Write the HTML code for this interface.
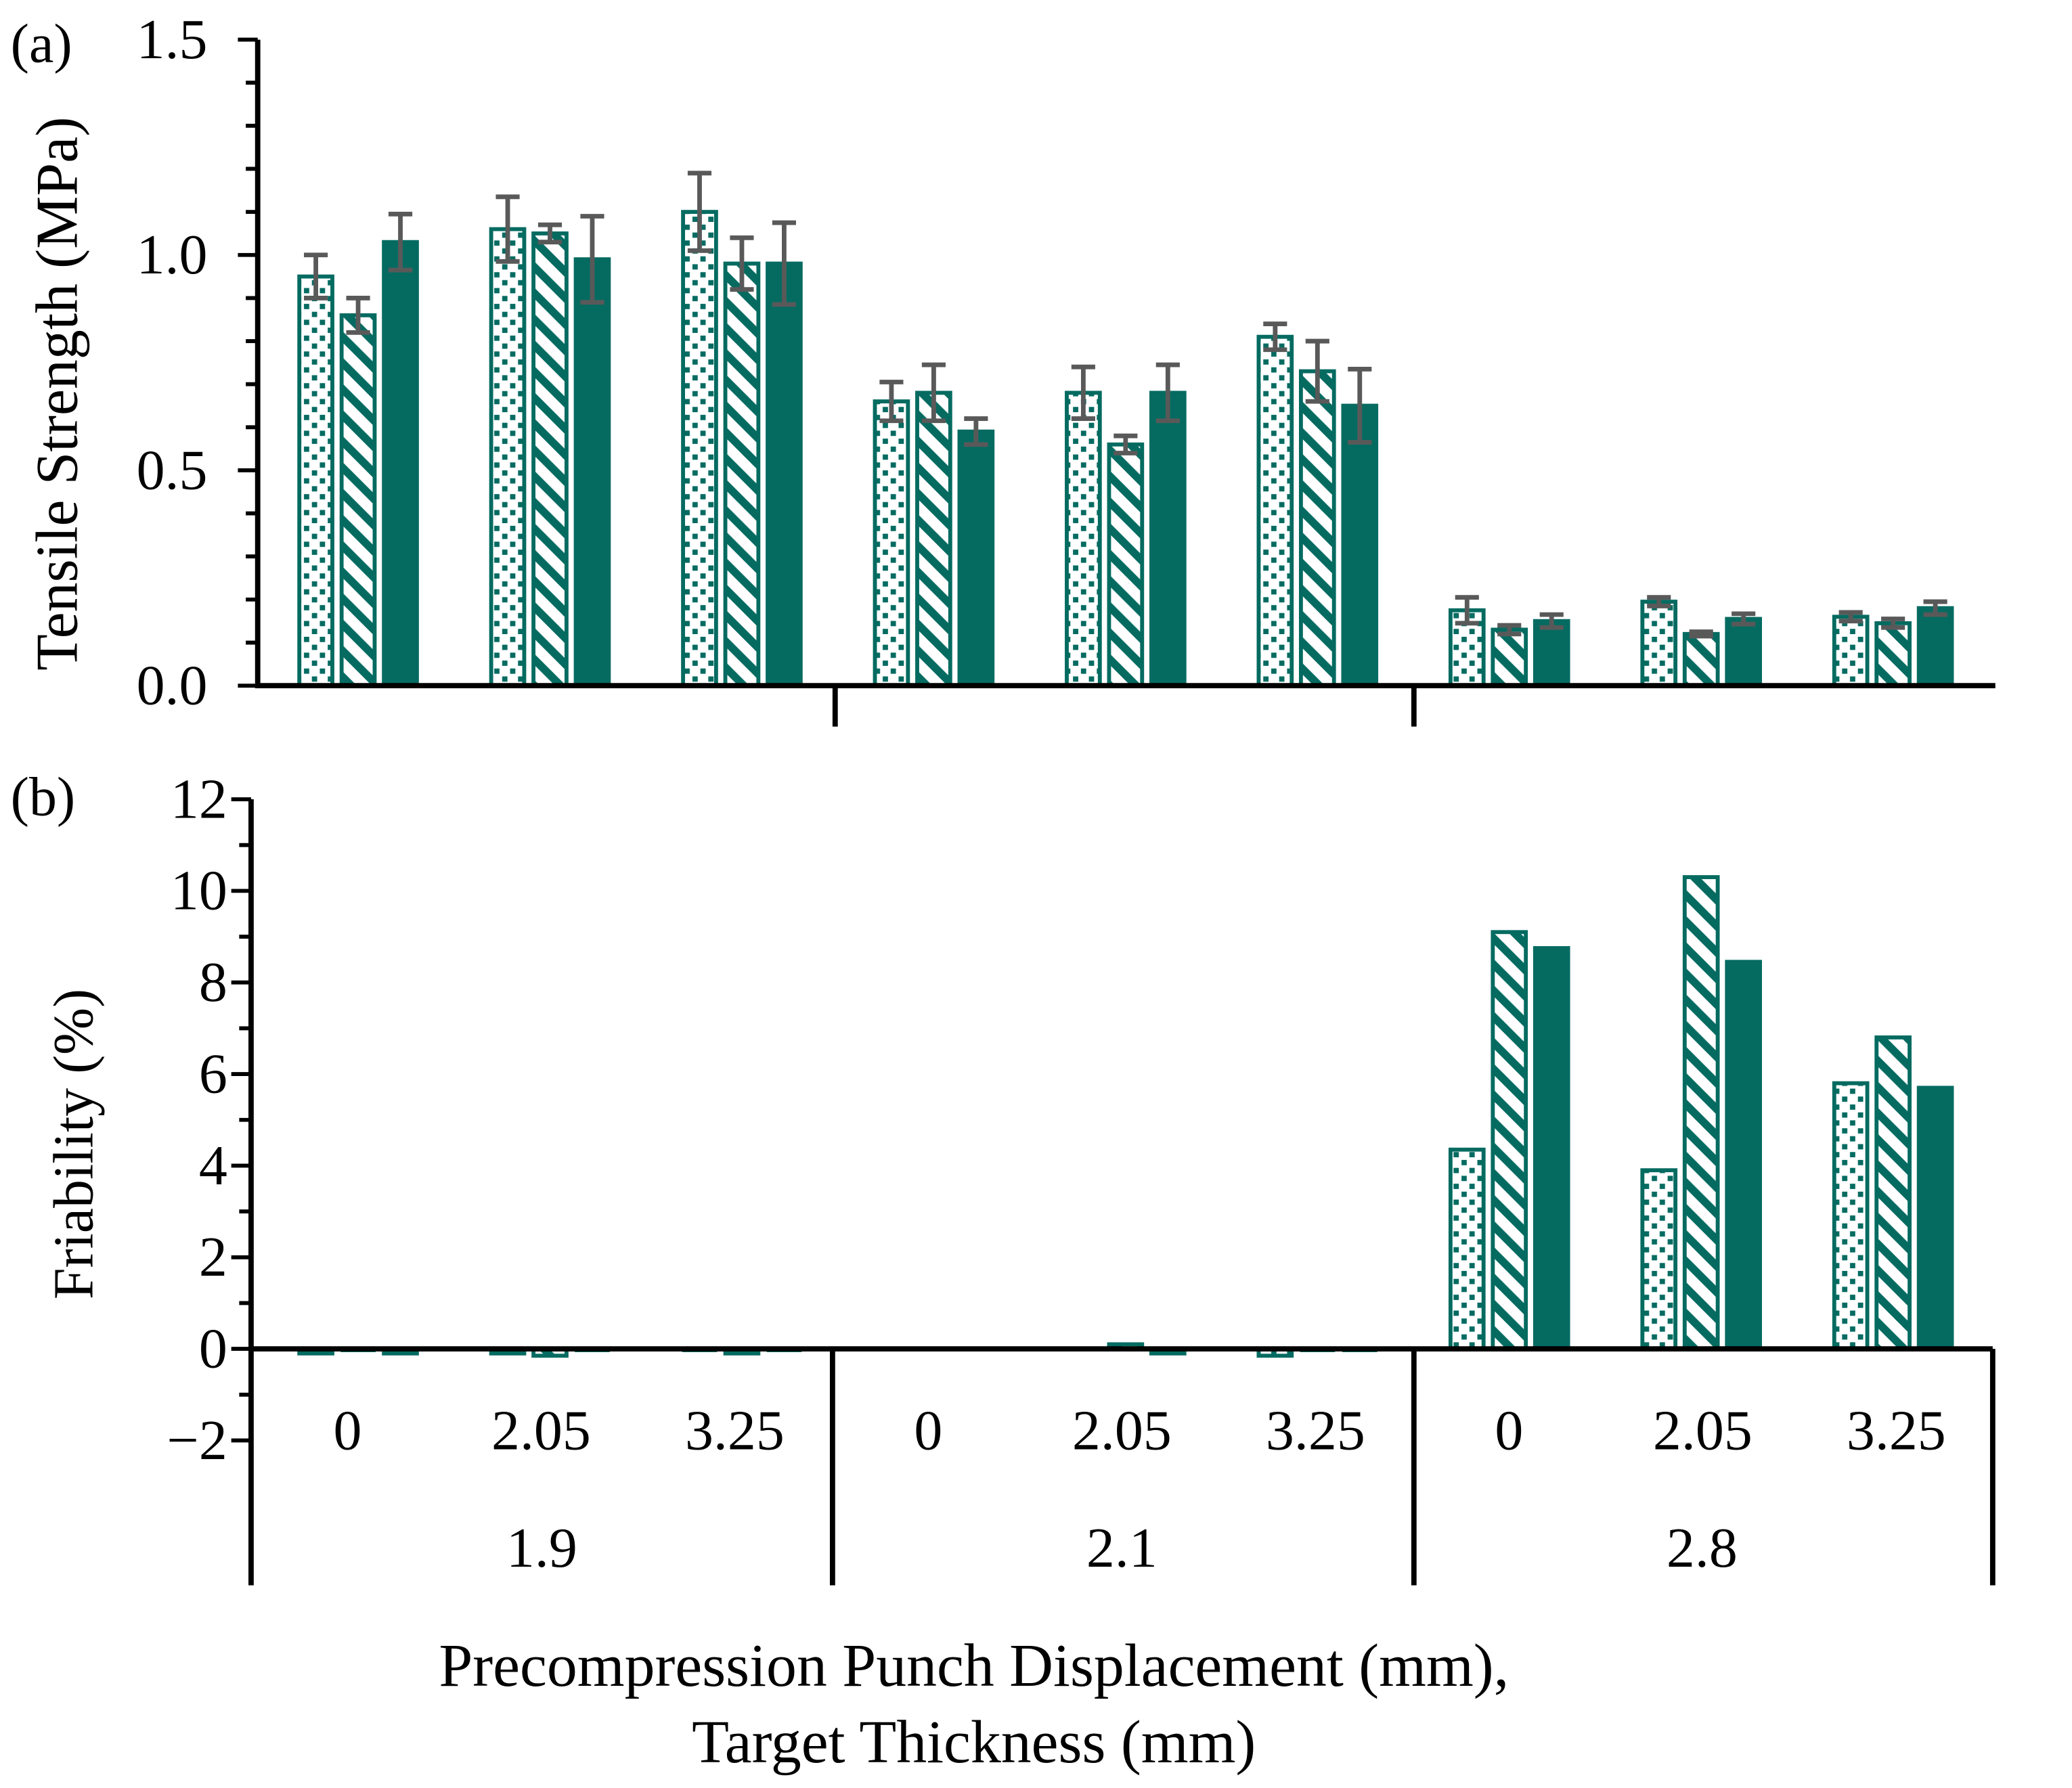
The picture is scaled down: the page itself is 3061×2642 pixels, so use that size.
<!DOCTYPE html>
<html><head><meta charset="utf-8"><style>html,body{margin:0;padding:0;background:#fff}svg{display:block}</style></head>
<body>
<svg id="chart" xmlns="http://www.w3.org/2000/svg" width="3061" height="2642" viewBox="0 0 1568 1353.4" font-family="'Liberation Serif', serif">
<defs>
<pattern id="dots" patternUnits="userSpaceOnUse" width="12" height="12">
<rect x="2" y="2" width="4" height="4" fill="#056b61"/><rect x="8" y="8" width="4" height="4" fill="#056b61"/>
</pattern>
<pattern id="stripes" patternUnits="userSpaceOnUse" width="14" height="14" patternTransform="rotate(-45)">
<rect x="0" y="0" width="6" height="14" fill="#056b61"/>
</pattern>
</defs>
<g id="g"></g>
</svg>
<script>
const categories = ["0","2.05","3.25","0","2.05","3.25","0","2.05","3.25"];
const groups = ["1.9","2.1","2.8"];
const tsDotted = [0.95,1.06,1.10,0.66,0.68,0.81,0.175,0.195,0.16];
const tsStriped = [0.86,1.05,0.98,0.68,0.56,0.73,0.13,0.12,0.145];
const tsSolid = [1.03,0.99,0.98,0.59,0.68,0.65,0.15,0.155,0.18];
const tsDottedErr = [0.05,0.075,0.09,0.045,0.06,0.03,0.03,0.01,0.01];
const tsStripedErr = [0.04,0.02,0.06,0.065,0.02,0.07,0.01,0.005,0.01];
const tsSolidErr = [0.065,0.10,0.095,0.03,0.065,0.085,0.015,0.012,0.015];
const frDotted = [-0.1,-0.1,-0.05,0,0,-0.15,4.35,3.9,5.8];
const frStriped = [-0.05,-0.15,-0.1,0,0.1,-0.05,9.1,10.3,6.8];
const frSolid = [-0.1,-0.05,-0.05,0,-0.1,-0.05,8.75,8.45,5.7];
const tsTicks = ["0.0","0.5","1.0","1.5"];
const frTicks = ["−2","0","2","4","6","8","10","12"];

const NS="http://www.w3.org/2000/svg", g=document.getElementById('g');
function el(t,a,p){const e=document.createElementNS(NS,t);for(const k in a)e.setAttribute(k,a[k]);(p||g).appendChild(e);return e;}
const teal="#056b61";
const xC=i=>263+i*146.5;
const xB=i=>271+i*145.2;
const yA=v=>519-v*(489/1.5);
const yB=v=>1021-v*(416/12);
const fills=["url(#dots)","url(#stripes)",teal];

const tsSeries=[tsDotted,tsStriped,tsSolid], tsErr=[tsDottedErr,tsStripedErr,tsSolidErr];
tsSeries.forEach((s,si)=>s.forEach((v,i)=>{
 const x=xB(i)+(si-1)*32-12.5;
 const r=el('rect',{x:x,y:yA(v),width:25,height:yA(0)-yA(v),fill:fills[si],stroke:teal,'stroke-width':3});
 
 
 const e=tsErr[si][i], cx=xB(i)+(si-1)*32;
 const eb=el('path',{d:`M${cx},${yA(v-e)}V${yA(v+e)}M${cx-9},${yA(v-e)}H${cx+9}M${cx-9},${yA(v+e)}H${cx+9}`,stroke:'#595959','stroke-width':3.5,fill:'none'});
 
 
}));
const frSeries=[frDotted,frStriped,frSolid];
frSeries.forEach((s,si)=>s.forEach((v,i)=>{
 const x=xB(i)+(si-1)*32-12.5;
 const y0=Math.min(yB(v),yB(0)), h=Math.abs(yB(v)-yB(0));
 const r=el('rect',{x:x,y:y0,width:25,height:Math.max(h,0.5),fill:fills[si],stroke:teal,'stroke-width':h>3?3:1.5});
 
 
}));
let ax=el('path',{d:`M195,30V519H1510M632,519V550M1070,519V550`,stroke:'#000','stroke-width':4,fill:'none'});


for(let k=0;k<=15;k++){el('line',{x1:k%5==0?180:186,x2:195,y1:yA(k*0.1),y2:yA(k*0.1),stroke:'#000','stroke-width':3});}
tsTicks.forEach((t,k)=>{const tx=el('text',{x:157,y:yA(k*0.5)+14,'font-size':43,'text-anchor':'end'});tx.textContent=t;
 
 });
ax=el('path',{d:`M190,605V1090M190,1021H1508M190,1021V1200M630,1021V1200M1070,1021V1200M1508,1021V1200`,stroke:'#000','stroke-width':4,fill:'none'});


for(let k=-2;k<=12;k++){el('line',{x1:k%2==0?175:181,x2:190,y1:yB(k),y2:yB(k),stroke:'#000','stroke-width':3});}
frTicks.forEach((t,k)=>{const tx=el('text',{x:172,y:yB(-2+k*2)+14,'font-size':43,'text-anchor':'end'});tx.textContent=t;
 
 });
categories.forEach((c,i)=>{const tx=el('text',{x:xC(i),y:1097,'font-size':43,'text-anchor':'middle'});tx.textContent=c;
 
 });
groups.forEach((c,i)=>{const tx=el('text',{x:410+i*439,y:1186,'font-size':43,'text-anchor':'middle'});tx.textContent=c;
 
 });
function txt(s,a,name){const t=el('text',a);t.textContent=s;}
txt('(a)',{x:8,y:47,'font-size':42},'panel-a-label');
txt('(b)',{x:8,y:617,'font-size':42},'panel-b-label');
txt('Tensile Strength (MPa)',{x:0,y:0,'font-size':45,'text-anchor':'middle',transform:'translate(58,298) rotate(-90)'},'y-axis-title-a');
txt('Friability (%)',{x:0,y:0,'font-size':43,'text-anchor':'middle',transform:'translate(70,866) rotate(-90)'},'y-axis-title-b');
txt('Precompression Punch Displacement (mm),',{x:737,y:1276,'font-size':46,'text-anchor':'middle'},'x-axis-title-line1');
txt('Target Thickness (mm)',{x:737,y:1334,'font-size':46,'text-anchor':'middle'},'x-axis-title-line2');
</script>
</body></html>
